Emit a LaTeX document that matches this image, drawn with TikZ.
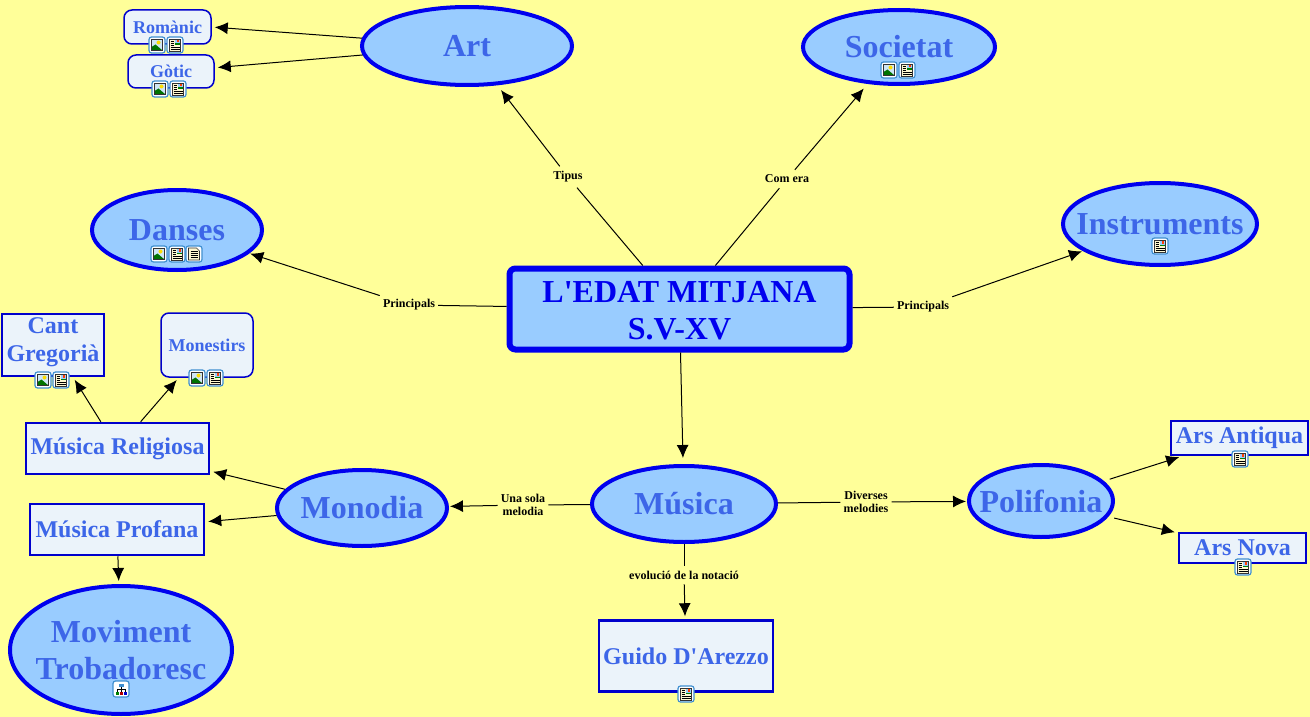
\documentclass[tikz,border=0pt]{standalone}
\usepackage{fontspec}
\setmainfont{Liberation Serif}
\usepackage{tikz}
\usetikzlibrary{shapes,arrows.meta,positioning,calc}
\definecolor{fondo}{HTML}{FFFF99}
\definecolor{cel}{HTML}{99CCFF}
\definecolor{blau}{HTML}{0000EE}
\definecolor{marc}{HTML}{0000CC}
\definecolor{lletra}{HTML}{3D66E8}
\definecolor{clar}{HTML}{EBF3FA}
\definecolor{vora}{HTML}{3F8FD0}
\definecolor{paper}{HTML}{FFF8D0}
\definecolor{cels}{HTML}{CFE6F5}
\tikzset{
	tema/.style = {
		draw=blau,
		fill=cel,
		ellipse,
		line width=4pt,
		inner sep=0pt
	},
	titol/.style = {
		inner sep=0pt,
		align=center,
		text=lletra,
		font=\fontsize{32}{37}\selectfont\bfseries
	},
	central/.style = {
		draw=blau,
		fill=cel,
		rectangle,
		line width=6pt,
		rounded corners=6pt,
		inner sep=0pt,
		align=center,
		text=blau,
		text height=61pt,
		font=\fontsize{32}{37}\selectfont\bfseries
	},
	caixa/.style = {
		draw=marc,
		fill=clar,
		rectangle,
		line width=2.5pt,
		inner sep=0pt,
		align=center,
		text=lletra,
		font=\fontsize{24}{28}\selectfont\bfseries
	},
	arrodonit/.style = {
		draw=marc,
		fill=clar,
		rectangle,
		line width=1.5pt,
		rounded corners=8pt,
		inner sep=0pt,
		align=center,
		text=lletra,
		font=\fontsize{18}{22}\selectfont\bfseries
	},
	etiqueta/.style = {
		font=\fontsize{12}{13}\selectfont\bfseries,
		inner xsep=3pt,
		inner ysep=5pt,
		align=center
	},
	fletxa/.style = {
		-{Latex[length=13pt,width=12pt]},
		line width=1pt,
		shorten >=3pt
	},
	acel/.style = {
		shorten >=6pt
	},
	arran/.style = {
		shorten >=1pt
	},
	linia/.style = {
		line width=1pt
	},
	pics/marcicona/.style = {
		code = {
			\draw[draw=vora, fill=white, line width=1.2pt, rounded corners=2.5pt] (-8,-8) rectangle (8,8);
		}
	},
	pics/imatge/.style = {
		code = {
			\pic {marcicona};
			\fill[cels] (-5.5,-5.5) rectangle (5.5,5.5);
			\fill[yellow!80!orange] (1.5,-2.5) circle (2);
			\fill[green!45!black] (-5.5,5.5) -- (-5.5,2) -- (-1.5,-.5) -- (5.5,5.5) -- cycle;
			\draw[black!80, line width=.7pt] (-5.5,-5.5) rectangle (5.5,5.5);
		}
	},
	pics/document/.style = {
		code = {
			\pic {marcicona};
			\fill[paper] (-5.5,-6) rectangle (5.5,6);
			\fill[cel] (-.5,-5.5) rectangle (5,0);
			\fill[red!50!orange] (1.5,-5) rectangle (4,-2.5);
			\fill[green!50!black] (-.5,-1.5) rectangle (5,0);
			\foreach \fila in {-4,-2,0}
				\draw[black, line width=.7pt] (-4.5,\fila) -- (-1.5,\fila);
			\foreach \fila in {2,4}
				\draw[black, line width=.7pt] (-4.5,\fila) -- (4.5,\fila);
			\draw[black!80, line width=.7pt] (-5.5,-6) rectangle (5.5,6);
		}
	},
	pics/text/.style = {
		code = {
			\pic {marcicona};
			\fill[paper] (-5.5,-6) -- (2.5,-6) -- (5.5,-3) -- (5.5,6) -- (-5.5,6) -- cycle;
			\foreach \fila in {-3,-1,1,3}
				\draw[black, line width=.7pt] (-3.5,\fila) -- (3.5,\fila);
			\draw[black!80, line width=.7pt] (-5.5,-6) -- (2.5,-6) -- (5.5,-3) -- (5.5,6) -- (-5.5,6) -- cycle;
		}
	},
	pics/mapa/.style = {
		code = {
			\pic {marcicona};
			\draw[black, line width=.6pt] (0,-3) -- (0,3) (-4,3) -- (-4,0) -- (4,0) -- (4,3);
			\fill[vora] (-2.5,-5.5) rectangle (2.5,-2.5);
			\fill[green!50!black] (-5.5,2.5) rectangle (-2.5,5.5);
			\fill[red!70!black] (-1.5,2.5) rectangle (1.5,5.5);
			\fill[marc] (2.5,2.5) rectangle (5.5,5.5);
		}
	}
}
\begin{document}
\begin{tikzpicture}[x=1pt,y=-1pt]

	% --- Fons ---
	\fill[fondo] (0,0) rectangle (1310,717);
	\useasboundingbox (0,0) rectangle (1310,717);

	% --- Conceptes ---
	\node [central, minimum width=340pt, minimum height=81pt] (edat) at (679.5,309) {L\textquotesingle EDAT MITJANA \\ S.V-XV};
	\node [tema, minimum width=210pt, minimum height=78pt, label={[titol]center:Art}] (art) at (467,46) {};
	\node [tema, minimum width=192pt, minimum height=74pt, label={[titol]center:Societat}] (societat) at (899,47) {};
	\node [tema, minimum width=170pt, minimum height=80pt, label={[titol]center:Danses}] (danses) at (177,230) {};
	\node [tema, minimum width=194pt, minimum height=82pt, label={[titol]center:Instruments}] (instruments) at (1160,224) {};
	\node [tema, minimum width=184pt, minimum height=76pt, label={[titol]center:Música}] (musica) at (684,504) {};
	\node [tema, minimum width=170pt, minimum height=76pt, label={[titol]center:Monodia}] (monodia) at (362,508) {};
	\node [tema, minimum width=144pt, minimum height=72pt, label={[titol]center:Polifonia}] (polifonia) at (1041,501) {};
	\node [tema, minimum width=222pt, minimum height=128pt, label={[titol]center:Moviment \\ Trobadoresc}] (moviment) at (121,650) {};

	\node [caixa, minimum width=183pt, minimum height=51pt] (religiosa) at (117.5,448.5) {Música Religiosa};
	\node [caixa, minimum width=174pt, minimum height=51pt] (profana) at (117,529.5) {Música Profana};
	\node [caixa, minimum width=102pt, minimum height=62pt, text depth=10pt] (cant) at (53,345) {Cant \\ Gregorià};
	\node [caixa, minimum width=137pt, minimum height=34pt] (antiqua) at (1239.5,438) {Ars Antiqua};
	\node [caixa, minimum width=127pt, minimum height=30pt] (nova) at (1242.5,548) {Ars Nova};
	\node [caixa, minimum width=174pt, minimum height=71pt] (guido) at (686,656) {Guido D\textquotesingle Arezzo};

	\node [arrodonit, minimum width=87pt, minimum height=34pt] (romanic) at (167.5,27) {Romànic};
	\node [arrodonit, minimum width=86pt, minimum height=33pt] (gotic) at (171,71.5) {Gòtic};
	\node [arrodonit, minimum width=92pt, minimum height=64pt] (monestirs) at (207,345) {Monestirs};

	% --- Etiquetes ---
	\node [etiqueta] (tipus) at (568,177) {Tipus};
	\node [etiqueta] (comera) at (787,179) {Com era};
	\node [etiqueta] (prinesq) at (409,305) {Principals};
	\node [etiqueta] (prindre) at (923,307) {Principals};
	\node [etiqueta] (sola) at (523,505) {Una sola \\ melodia};
	\node [etiqueta] (diverses) at (866,502) {Diverses \\ melodies};
	\node [etiqueta] (notacio) at (684,575) {evolució de la notació};

	% --- Connexions ---
	\draw [linia] (edat) -- (tipus);
	\draw [fletxa, acel] (tipus) -- (art);
	\draw [linia] (edat) -- (comera);
	\draw [fletxa, acel] (comera) -- (societat);
	\draw [linia] (edat) -- (prinesq);
	\draw [fletxa, arran] (prinesq) -- (danses);
	\draw [linia] (edat) -- (prindre);
	\draw [fletxa, arran] (prindre) -- (instruments);
	\draw [fletxa, acel] (edat) -- (musica);

	\draw [fletxa] (art) -- (romanic.east);
	\draw [fletxa] (art) -- (gotic);

	\draw [linia] (musica) -- (sola);
	\draw [fletxa, arran] (sola) -- (monodia);
	\draw [linia] (musica) -- (diverses);
	\draw [fletxa, arran] (diverses) -- (polifonia);
	\draw [linia] (musica) -- (notacio);
	\draw [fletxa] (notacio) -- (guido);

	\draw [fletxa] (monodia) -- (religiosa);
	\draw [fletxa] (monodia) -- (profana);
	\draw [fletxa] (profana) -- (moviment);
	\draw [fletxa] (religiosa) -- (cant);
	\draw [fletxa] (religiosa) -- (monestirs);
	\draw [fletxa, shorten <=6pt] (polifonia) -- (antiqua);
	\draw [fletxa, shorten <=6pt] (polifonia) -- (nova);

	% --- Icones ---
	\pic at (157,45) {imatge};
	\pic at (175,45) {document};
	\pic at (160,89) {imatge};
	\pic at (178,89) {document};
	\pic at (889,70) {imatge};
	\pic at (907,70) {document};
	\pic at (159,254) {imatge};
	\pic at (177,254) {document};
	\pic at (194,254) {text};
	\pic at (1160,246) {document};
	\pic at (43,380) {imatge};
	\pic at (61,380) {document};
	\pic at (197,378) {imatge};
	\pic at (215,378) {document};
	\pic at (1240,459) {document};
	\pic at (1243,567) {document};
	\pic at (686,694) {document};
	\pic at (121,689) {mapa};

\end{tikzpicture}
\end{document}
